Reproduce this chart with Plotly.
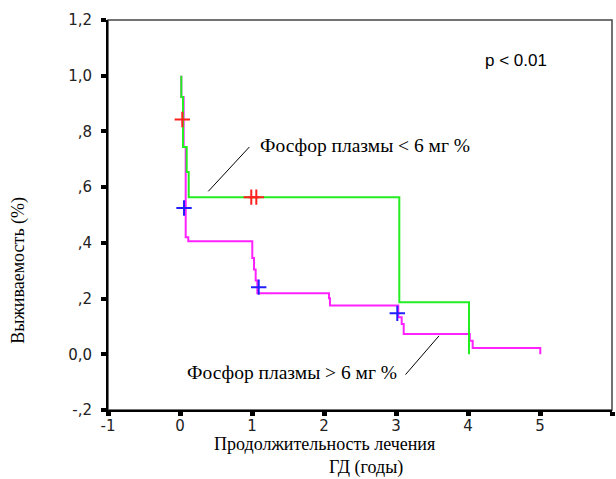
import plotly.graph_objects as go

# Kaplan-Meier step data (time in years, survival after step)
green_t = [0.018, 0.018, 0.042, 0.093, 0.121, 3.046, 4.014]
green_s = [1.0, 0.924, 0.744, 0.654, 0.564, 0.187, 0.0]

magenta_t = [0.018, 0.018, 0.051, 0.079, 0.115, 1.004, 1.028, 1.051, 1.074, 2.069, 2.083,
             3.032, 3.079, 3.107, 4.025, 4.065, 5.004]
magenta_s = [1.0, 0.924, 0.744, 0.420, 0.406, 0.346, 0.304, 0.265, 0.219, 0.201, 0.175,
             0.133, 0.109, 0.073, 0.049, 0.023, 0.0]

red_cens_t = [0.032, 0.99, 1.06]
red_cens_s = [0.843, 0.564, 0.564]

blue_cens_t = [0.056, 1.093, 3.018]
blue_cens_s = [0.525, 0.241, 0.147]

x_ticks = [-1, 0, 1, 2, 3, 4, 5, 6]
y_ticks = [1.2, 1.0, 0.8, 0.6, 0.4, 0.2, 0.0, -0.2]
y_tick_text = ["1,2", "1,0", ",8", ",6", ",4", ",2", "0,0", "-,2"]

label_low = "Фосфор плазмы < 6 мг %"
label_high = "Фосфор плазмы > 6 мг %"
x_title_1 = "Продолжительность лечения"
x_title_2 = "ГД (годы)"
y_title = "Выживаемость (%)"

fig = go.Figure()
fig.add_trace(go.Scatter(x=magenta_t, y=magenta_s, mode="lines", line_shape="hv",
                         line=dict(color="#ff22ff", width=2), showlegend=False))
fig.add_trace(go.Scatter(x=green_t, y=green_s, mode="lines", line_shape="hv",
                         line=dict(color="#22ee22", width=2), showlegend=False))
fig.add_trace(go.Scatter(x=red_cens_t, y=red_cens_s, mode="markers",
                         marker=dict(symbol="cross-thin", size=11,
                                     line=dict(color="#ff2020", width=2)),
                         showlegend=False))
fig.add_trace(go.Scatter(x=blue_cens_t, y=blue_cens_s, mode="markers",
                         marker=dict(symbol="cross-thin", size=11,
                                     line=dict(color="#2020ff", width=2)),
                         showlegend=False))

serif = "Liberation Serif"

fig.add_annotation(x=1.083, y=0.750, xref="x", yref="y", text=label_low, showarrow=False,
                   xanchor="left", yanchor="middle", font=dict(family=serif, size=19.5, color="black"))
fig.add_annotation(x=0.075, y=-0.064, xref="x", yref="y", text=label_high, showarrow=False,
                   xanchor="left", yanchor="middle", font=dict(family=serif, size=19.5, color="black"))
fig.add_annotation(x=4.208, y=1.056, xref="x", yref="y", text="p < 0.01", showarrow=False,
                   xanchor="left", yanchor="middle",
                   font=dict(family="Liberation Sans", size=17, color="black"))

fig.add_shape(type="line", x0=0.393, y0=0.585, x1=0.963, y1=0.744, xref="x", yref="y",
              line=dict(color="black", width=1))
fig.add_shape(type="line", x0=3.132, y0=-0.073, x1=3.597, y1=0.066, xref="x", yref="y",
              line=dict(color="black", width=1))
# frame (top/right border lighter)
fig.add_shape(type="rect", x0=0, y0=0, x1=1, y1=1, xref="paper", yref="paper",
              line=dict(color="#444", width=1.5), layer="below")

# axis titles
fig.add_annotation(x=0, y=0.30, xref="paper", yref="y", xshift=-89, text=y_title,
                   textangle=-90, showarrow=False, xanchor="center", yanchor="middle",
                   font=dict(family=serif, size=18, color="black"))
fig.add_annotation(x=2.007, y=0, xref="x", yref="paper", yshift=-34,
                   text=x_title_1, showarrow=False,
                   xanchor="center", yanchor="middle", font=dict(family=serif, size=18, color="black"))
fig.add_annotation(x=2.59, y=0, xref="x", yref="paper", yshift=-57,
                   text=x_title_2, showarrow=False,
                   xanchor="center", yanchor="middle", font=dict(family=serif, size=18, color="black"))

fig.update_layout(
    width=616, height=479,
    margin=dict(l=108, r=4, t=20, b=69),
    plot_bgcolor="white", paper_bgcolor="white",
    xaxis=dict(range=[-1, 6], tickvals=x_ticks, ticktext=[str(v) for v in x_ticks],
               showgrid=False, zeroline=False, showline=True, linecolor="black", linewidth=2,
               ticks="outside", ticklen=4, tickwidth=5, tickcolor="black",
               ticklabelstandoff=-3,
               tickfont=dict(family="DejaVu Sans", size=15, color="#222")),
    yaxis=dict(range=[-0.2, 1.2], tickvals=y_ticks, ticktext=y_tick_text,
               showgrid=False, zeroline=False, showline=True, linecolor="black", linewidth=2,
               ticks="outside", ticklen=5, tickwidth=4, tickcolor="black",
               ticklabelstandoff=6,
               tickfont=dict(family="DejaVu Sans", size=15, color="#222")),
)

fig.write_html("out.html")
